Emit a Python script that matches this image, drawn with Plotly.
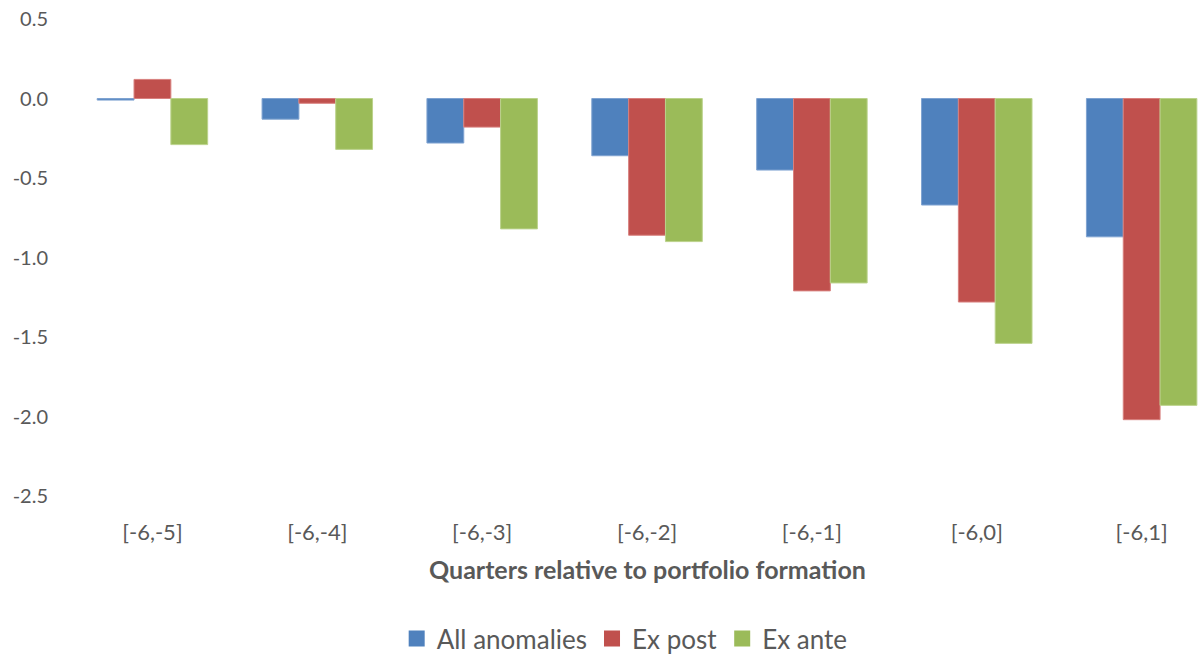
import plotly.graph_objects as go

# Cumulative returns by holding window, three portfolio definitions
windows = ["[-6,-5]", "[-6,-4]", "[-6,-3]", "[-6,-2]", "[-6,-1]", "[-6,0]", "[-6,1]"]
all_anomalies = [-0.01, -0.13, -0.28, -0.36, -0.45, -0.67, -0.87]
ex_post = [0.12, -0.03, -0.18, -0.86, -1.21, -1.28, -2.02]
ex_ante = [-0.29, -0.32, -0.82, -0.90, -1.16, -1.54, -1.93]

y_ticks = [0.5, 0.0, -0.5, -1.0, -1.5, -2.0, -2.5]
y_tick_text = ["0.5", "0.0", "-0.5", "-1.0", "-1.5", "-2.0", "-2.5"]

series = [
    ("All anomalies", all_anomalies, "#4F81BD", "#7FA3D1"),
    ("Ex post", ex_post, "#C0504D", "#D8807E"),
    ("Ex ante", ex_ante, "#9BBB59", "#BBD28C"),
]

font_family = "Lato, 'Open Sans', sans-serif"
text_color = "#595959"

fig = go.Figure()
for name, vals, fill, edge in series:
    fig.add_trace(go.Bar(
        name=name,
        x=windows,
        y=vals,
        marker=dict(color=fill, line=dict(color=edge, width=1)),
        showlegend=False,
    ))

# Legend entries with larger square swatches
for name, _, fill, _ in series:
    fig.add_trace(go.Scatter(
        name=name,
        x=[None],
        y=[None],
        mode="markers",
        marker=dict(symbol="square", size=17, color=fill),
        showlegend=True,
    ))

fig.update_layout(
    width=1202,
    height=662,
    margin=dict(l=70, r=0, t=19, b=163),
    paper_bgcolor="white",
    plot_bgcolor="white",
    barmode="group",
    bargap=0.33,
    bargroupgap=0,
    font=dict(family=font_family, size=18, color=text_color),
    xaxis=dict(
        type="category",
        range=[-0.5, 6.366],
        showgrid=False,
        showline=False,
        zeroline=False,
        ticks="outside",
        ticklen=17,
        tickcolor="rgba(0,0,0,0)",
        tickfont=dict(size=22, color=text_color),
    ),
    yaxis=dict(
        range=[-2.5, 0.5],
        tickvals=y_ticks,
        ticktext=y_tick_text,
        showgrid=False,
        showline=False,
        zeroline=False,
        ticks="outside",
        ticklen=17,
        tickcolor="rgba(0,0,0,0)",
        tickfont=dict(size=20, color=text_color),
    ),
    legend=dict(
        orientation="h",
        x=0.49,
        xanchor="center",
        y=-0.3,
        yanchor="middle",
        font=dict(size=26, color=text_color),
        itemwidth=30,
        itemsizing="trace",
        traceorder="normal",
    ),
    annotations=[
        dict(
            text="<b>Quarters relative to portfolio formation</b>",
            xref="paper", yref="paper",
            x=0.51, y=-0.152,
            xanchor="center", yanchor="middle",
            showarrow=False,
            font=dict(size=25, color=text_color),
        )
    ],
)

fig.write_html("out.html")
